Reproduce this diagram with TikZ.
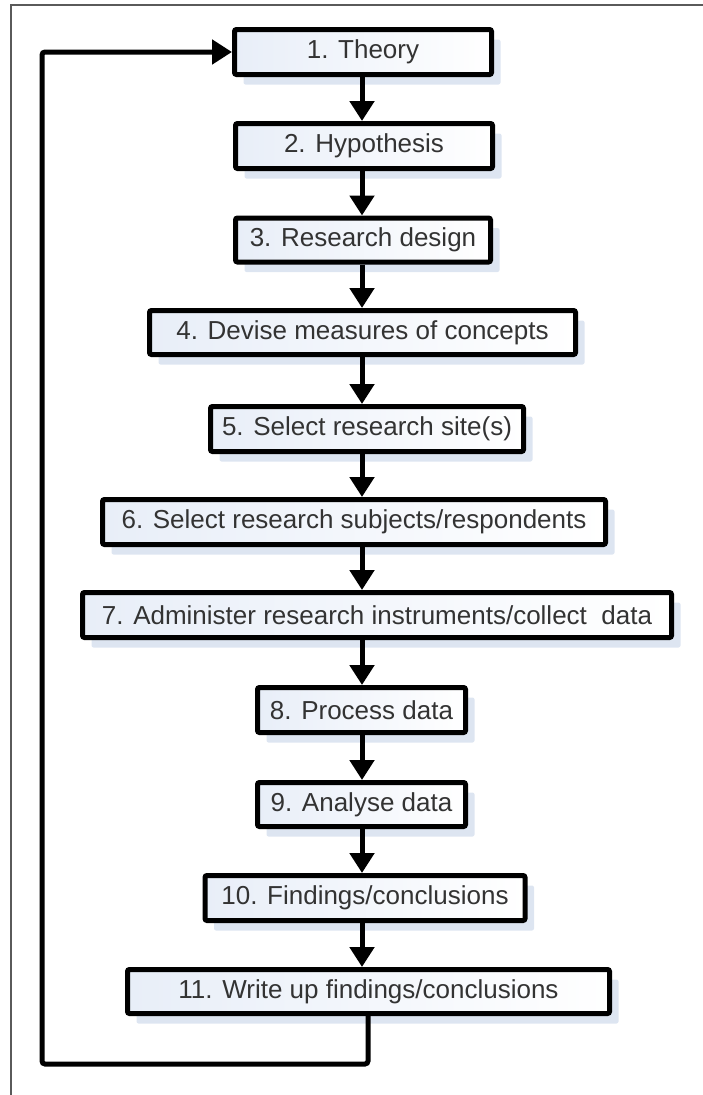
\documentclass[tikz,border=0pt]{standalone}
\usepackage{fontspec}
\setmainfont{Liberation Sans}
\usetikzlibrary{arrows.meta,shadows}

\definecolor{boxblue}{RGB}{232,238,248}
\definecolor{shadowblue}{RGB}{221,229,241}
\definecolor{framegray}{RGB}{90,90,90}

\tikzset{
  stepbox/.style={draw=black, line width=5pt, rounded corners=2pt, inner sep=0pt,
    left color=boxblue, right color=white, text=black!80,
    font=\fontsize{26}{30}\selectfont,
    drop shadow={shadow xshift=9pt, shadow yshift=-10pt, fill=shadowblue, opacity=1}},
  flow/.style={line width=5pt, -{Triangle[width=24pt,length=20pt]}},
}

\begin{document}
\begin{tikzpicture}[x=1pt,y=-1pt]
    \useasboundingbox (0,0) rectangle (703,1095);
    \draw[framegray, line width=2pt] (703,5) -- (11,5) -- (11,1095);

    \node[stepbox, minimum width=257pt, minimum height=45pt] (b1) at (363,52) {1. Theory};
    \node[stepbox, minimum width=257pt, minimum height=45pt] (b2) at (364,146) {2. Hypothesis};
    \node[stepbox, minimum width=255pt, minimum height=44pt] (b3) at (363,240) {3. Research design};
    \node[stepbox, minimum width=426pt, minimum height=44pt] (b4) at (362.5,332.5) {4. Devise measures of concepts};
    \node[stepbox, minimum width=313pt, minimum height=45pt] (b5) at (367,429) {5. Select research site(s)};
    \node[stepbox, minimum width=503pt, minimum height=45pt] (b6) at (354,522) {6. Select research subjects/respondents};
    \node[stepbox, minimum width=589pt, minimum height=45pt] (b7) at (377,615) {7. Administer research instruments/collect\ \ data};
    \node[stepbox, minimum width=208pt, minimum height=45pt] (b8) at (361.5,710) {8. Process data};
    \node[stepbox, minimum width=208pt, minimum height=44pt] (b9) at (361.5,804.5) {9. Analyse data};
    \node[stepbox, minimum width=320pt, minimum height=45pt] (b10) at (365,898) {10. Findings/conclusions};
    \node[stepbox, minimum width=482pt, minimum height=44pt] (b11) at (368.5,991.5) {11. Write up findings/conclusions};

    \coordinate (spine) at (362,0);
    \coordinate (back) at (368,1064);
    \coordinate (corner) at (42,1064);

    \path [flow] (b1.south -| spine) edge (b2.north -| spine);
    \path [flow] (b2.south -| spine) edge (b3.north -| spine);
    \path [flow] (b3.south -| spine) edge (b4.north -| spine);
    \path [flow] (b4.south -| spine) edge (b5.north -| spine);
    \path [flow] (b5.south -| spine) edge (b6.north -| spine);
    \path [flow] (b6.south -| spine) edge (b7.north -| spine);
    \path [flow] (b7.south -| spine) edge (b8.north -| spine);
    \path [flow] (b8.south -| spine) edge (b9.north -| spine);
    \path [flow] (b9.south -| spine) edge (b10.north -| spine);
    \path [flow] (b10.south -| spine) edge (b11.north -| spine);
    \draw [flow, rounded corners=3pt] (b11.south -| back) -- (back) -- (corner) |- (b1.west);
\end{tikzpicture}
\end{document}
